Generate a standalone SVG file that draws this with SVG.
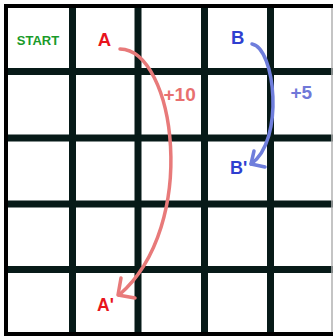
<svg xmlns="http://www.w3.org/2000/svg" width="333" height="336" viewBox="0 0 333 336">
<defs>
<style>
.grid{stroke:#071a18;stroke-width:7;fill:none}
.border{stroke:#000;stroke-width:4;fill:none}
.lbl{font-family:"Liberation Sans",Arial,sans-serif;font-weight:bold}
.red{fill:#e8141c}
.blue{fill:#2f3fd0}
.arcR{stroke:#e87a7a;stroke-width:3.5;fill:none;stroke-linecap:round;stroke-linejoin:round}
.arcB{stroke:#6f7edc;stroke-width:3.5;fill:none;stroke-linecap:round;stroke-linejoin:round}
</style>
</defs>
<rect width="333" height="336" fill="#fff"/>
<g id="grid">
<line class="grid" x1="72.5" y1="4" x2="72.5" y2="336"/>
<line class="grid" x1="138" y1="4" x2="138" y2="336"/>
<line class="grid" x1="204.5" y1="4" x2="204.5" y2="336"/>
<line class="grid" x1="270.5" y1="4" x2="270.5" y2="336"/>
<line class="grid" x1="4" y1="71.5" x2="333" y2="71.5"/>
<line class="grid" x1="4" y1="138" x2="333" y2="138"/>
<line class="grid" x1="4" y1="204" x2="333" y2="204"/>
<line class="grid" x1="4" y1="269.5" x2="333" y2="269.5"/>
<line class="border" x1="6" y1="4" x2="6" y2="336"/>
<line class="border" x1="4" y1="6" x2="333" y2="6"/>
<line class="border" x1="4" y1="334" x2="333" y2="334"/>
<line x1="332" y1="8" x2="332" y2="332" stroke="#b0b0b0" stroke-width="1.5"/>
</g>
<g id="start"><text class="lbl" x="38" y="45" font-size="13" fill="#1a9a2a" text-anchor="middle">START</text></g>
<g id="nodeA"><text class="lbl red" x="104.5" y="46" font-size="18.5" text-anchor="middle">A</text></g>
<g id="nodeB"><text class="lbl blue" x="237.7" y="44.3" font-size="18.5" text-anchor="middle">B</text></g>
<g id="nodeA2"><text class="lbl red" x="97" y="311" font-size="17.5">A'</text></g>
<g id="nodeB2"><text class="lbl blue" x="230" y="174.3" font-size="18">B'</text></g>
<g id="connectors">
<path class="arcR" d="M120,49 C175,50 200,225 119,295"/>
<path class="arcR" d="M121,278 L118,295 L135,298"/>
<text class="lbl" x="163.5" y="101" font-size="19" fill="#e87070">+10</text>
<path class="arcB" d="M252,44 C275,48 285,140 251,164"/>
<path class="arcB" d="M254,151 L251,164 L265,167"/>
<text class="lbl" x="290.5" y="99.3" font-size="19" fill="#7078d8">+5</text>
</g>
</svg>
